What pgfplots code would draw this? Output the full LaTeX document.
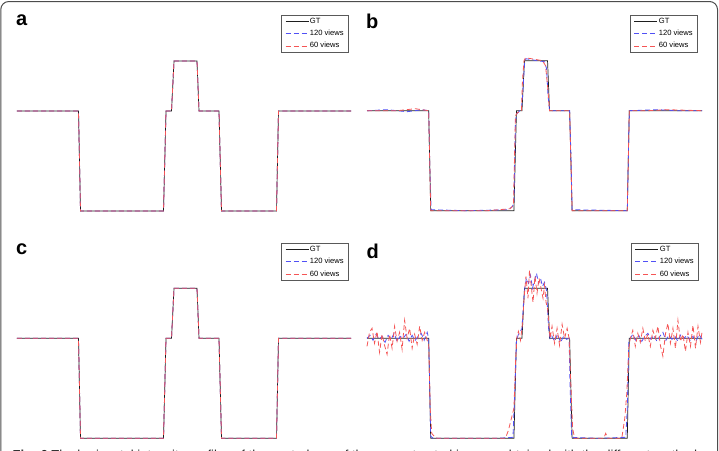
\documentclass[border=0pt]{standalone}
\usepackage{fontspec}
\setmainfont{Liberation Sans}
\usepackage{pgfplots}
\usepackage{pgfplotstable}
\pgfplotsset{compat=1.18}
\definecolor{rblue}{RGB}{80,80,245}
\definecolor{rred}{RGB}{245,85,85}
\definecolor{gtcol}{RGB}{30,30,30}

\pgfplotstableread{
x y
0 1
61.5 1
63.5 0
146.5 0
149 1
154.5 1
157 1.5
180 1.5
182 1
202 1
204.5 0
259.5 0
261.5 1
334 1
}\gtdata

\pgfplotstableread{
x y
0 1
20 1.01
40 0.99
55 1.01
61.5 1
62.5 0.5
64 0.01
100 0
140 0.01
145 0.04
146.5 0.1
148 0.9
149.5 0.97
154 1.02
155.5 1.2
157 1.47
158.5 1.52
170 1.5
177 1.49
179 1.42
180.5 1.15
182 1.0
202 1.0
203.5 0.5
204.5 0.01
259.5 0.0
261.5 1.0
290 1.01
310 1.0
334 1.0
}\bluebdata

\pgfplotstableread{
x y
0 1
30 1.0
48 1.02
61.5 1.0
63.5 0
120 0.0
143 0.02
146 0.06
148 0.95
150 0.98
154 1.0
155 1.3
156.5 1.5
158 1.53
175 1.5
178 1.45
180 1.25
182 1.0
202 1.0
204.5 0.0
259.5 0.0
261.5 1.0
280 1.0
300 1.01
334 1.0
}\redbdata

\pgfplotstableread{
x y
0 1.0
3 1.03
6 0.98
9 1.04
12 0.99
15 1.02
18 0.96
21 1.03
24 0.99
27 1.05
30 0.97
33 1.02
36 1.0
39 1.04
42 0.97
45 1.03
48 0.98
51 1.02
54 1.05
57 0.98
60 1.06
61.5 1.0
63.5 0.02
66 0.0
100 0.0
130 0.0
145.5 0.01
147.5 0.5
149 0.98
151 1.04
153 1.07
154.5 1.1
156 1.35
157.5 1.52
159 1.6
161 1.55
163 1.63
165 1.5
167 1.58
169 1.65
171 1.55
173 1.6
175 1.52
177 1.56
179 1.48
181 1.1
182.5 1.0
184 1.03
187 0.97
190 1.04
193 0.96
196 1.02
199 0.99
201.5 1.0
202.5 0.5
204 0.01
230 0.0
258 0.01
259.5 0.3
261 0.97
262.5 1.0
265 1.04
268 0.98
271 1.03
274 0.97
277 1.02
280 1.05
283 0.99
286 1.03
289 0.97
292 1.02
295 1.06
298 0.98
301 1.03
304 0.99
307 1.02
310 0.97
313 1.04
316 1.0
319 1.03
322 0.98
325 1.02
328 0.97
331 1.04
334 0.99
}\bluedddata

\pgfplotstableread{
x y
0 0.92
2.5 1.06
5 1.1
7.5 0.95
10 1.07
12.5 0.86
15 1.04
17.5 0.93
20 0.84
22.5 1.04
25 0.9
27.5 1.12
30 0.97
32.5 1.06
35 0.89
37.5 1.18
40 1.0
42.5 1.1
45 0.9
47.5 1.04
50 0.94
52.5 1.12
55 0.98
57.5 1.06
60 0.98
61.5 0.95
63 0.3
64.5 0.05
67 0.02
70 0.0
100 0.0
138 0.0
141 0.08
144 0.2
146.5 0.3
148 0.75
149.5 1.02
151 1.07
153 0.98
154.5 1.1
156 1.3
157 1.45
158.5 1.62
160.5 1.4
162 1.68
164 1.5
165.5 1.36
167.5 1.62
169.5 1.45
171.5 1.6
173.5 1.5
175.5 1.4
177 1.53
178.5 1.36
180 1.3
181.5 1.12
182.5 1.0
184.5 1.12
187 0.95
189.5 1.1
192 0.93
194.5 1.14
197 1.0
199.5 1.1
201.5 1.0
203 0.6
205 0.1
207 0.0
236 0.0
238 0.05
240 0.0
254 0.0
257 0.2
259 0.45
261 0.9
262.5 1.0
265 1.08
267.5 0.92
270 1.05
272.5 0.96
275 1.1
277.5 0.97
280 1.04
282.5 0.92
285 1.08
287.5 1.0
290 1.12
292.5 0.93
295 0.82
297.5 1.04
300 1.15
302.5 0.95
305 1.1
307.5 0.9
310 1.18
312.5 0.97
315 1.04
317.5 0.87
320 1.06
322.5 0.92
325 1.13
327.5 0.9
330 1.12
332.5 0.96
334 1.06
}\redddata

\pgfplotsset{
  panel/.style={scale only axis, width=334pt, height=150pt, axis lines=none,
    xmin=0, xmax=334, ymin=0, ymax=1.5, clip=false,
    legend cell align=left,
    legend image code/.code={\draw[##1] (0pt,0pt) -- (23pt,0pt);},
    legend style={font=\fontsize{7.6}{8.5}\selectfont, draw=black!65, line width=0.6pt,
      fill=white, inner xsep=4pt, inner ysep=2pt, row sep=3.2pt,
      nodes={inner sep=1pt, text depth=0.15em}, anchor=north east},
  },
  gt/.style={gtcol, line width=0.7pt},
  bl/.style={rblue, line width=0.8pt, dash pattern=on 5pt off 3pt},
  rd/.style={rred, line width=0.8pt, dash pattern=on 5pt off 3pt},
}

\begin{document}
\begin{tikzpicture}
\path[use as bounding box] (0pt,0pt) rectangle (719pt,-450pt);
\clip (0pt,0pt) rectangle (719pt,-450pt);
\draw[black!70, line width=1pt, rounded corners=8pt] (0.8pt,-1.5pt) rectangle (717.5pt,-490pt);

% panel a
\begin{axis}[panel, at={(17pt,-211pt)}, anchor=south west,
  legend style={at={(0.994,1.307)}}]
\addplot[gt] table {\gtdata};
\addplot[bl] table {\gtdata};
\addplot[rd] table {\gtdata};
\legend{GT,120 views,60 views}
\end{axis}

% panel b
\begin{axis}[panel, width=335pt, at={(367pt,-210.7pt)}, anchor=south west,
  legend style={at={(0.988,1.305)}}]
\addplot[gt] table {\gtdata};
\addplot[bl] table {\bluebdata};
\addplot[rd] table {\redbdata};
\legend{GT,120 views,60 views}
\end{axis}

% panel c
\begin{axis}[panel, at={(17pt,-438.3pt)}, anchor=south west,
  legend style={at={(0.994,1.302)}}]
\addplot[gt] table {\gtdata};
\addplot[bl] table {\gtdata};
\addplot[rd] table {\gtdata};
\legend{GT,120 views,60 views}
\end{axis}

% panel d
\begin{axis}[panel, width=335pt, at={(367pt,-438.3pt)}, anchor=south west,
  legend style={at={(0.991,1.302)}}]
\addplot[gt] table {\gtdata};
\addplot[bl] table {\bluedddata};
\addplot[rd] table {\redddata};
\legend{GT,120 views,60 views}
\end{axis}

\node[anchor=base west, inner sep=0pt, font=\fontsize{20}{20}\selectfont\bfseries] at (16pt,-25pt) {a};
\node[anchor=base west, inner sep=0pt, font=\fontsize{20}{20}\selectfont\bfseries] at (366pt,-28pt) {b};
\node[anchor=base west, inner sep=0pt, font=\fontsize{20}{20}\selectfont\bfseries] at (16pt,-254.5pt) {c};
\node[anchor=base west, inner sep=0pt, font=\fontsize{20}{20}\selectfont\bfseries] at (366.5pt,-258.3pt) {d};

\node[anchor=base west, inner sep=0pt, font=\fontsize{13}{15}\selectfont, text=black!85] at (12.5pt,-459pt)
  {\textbf{Fig. 6} The horizontal intensity profiles of the central row of the reconstructed images obtained with the different methods and numbers of views};
\end{tikzpicture}
\end{document}
